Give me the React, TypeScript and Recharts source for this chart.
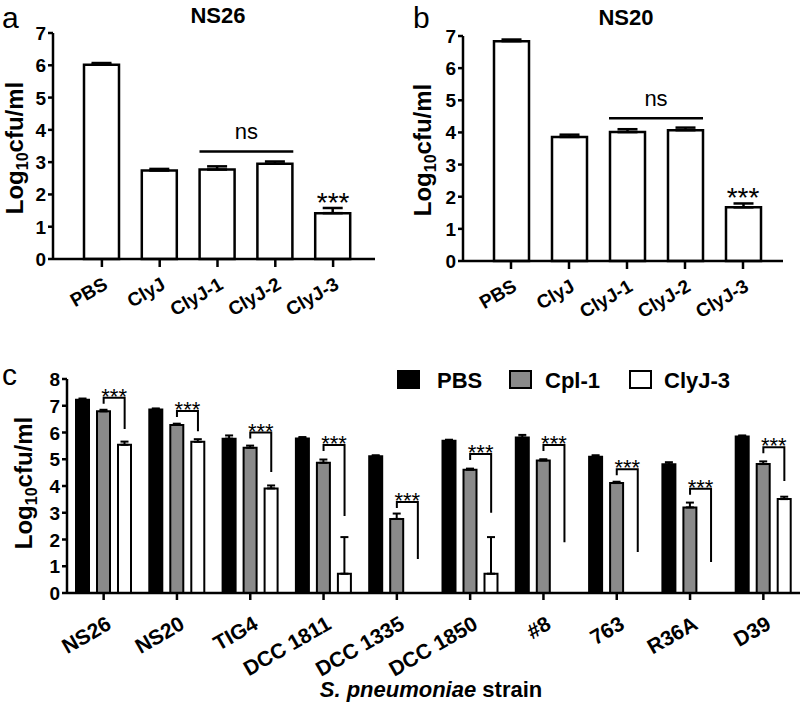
import React from 'react';
import { BarChart, Bar, XAxis, YAxis, ErrorBar, ReferenceLine, ReferenceDot, Legend } from 'recharts';

const FONT = '"Liberation Sans", Arial, Helvetica, sans-serif';

// ---------- Panels a & b ----------
const treatments = ['PBS', 'ClyJ', 'ClyJ-1', 'ClyJ-2', 'ClyJ-3'];
const ns26Values = [6.02, 2.74, 2.77, 2.95, 1.42];
const ns26Errors = [0.05, 0.05, 0.1, 0.07, 0.16];
const ns20Values = [6.84, 3.86, 4.01, 4.07, 1.67];
const ns20Errors = [0.05, 0.07, 0.09, 0.08, 0.12];
const nsLevelA = 3.33;
const nsLevelB = 4.44;
const nsFrom = 'ClyJ-1';
const nsTo = 'ClyJ-2';
const starTarget = 'ClyJ-3';
const yTicksAB = [0, 1, 2, 3, 4, 5, 6, 7];

// ---------- Panel c ----------
const strains = ['NS26', 'NS20', 'TIG4', 'DCC 1811', 'DCC 1335', 'DCC 1850', '#8', '763', 'R36A', 'D39'];
const pbsValues = [7.22, 6.86, 5.77, 5.78, 5.11, 5.69, 5.81, 5.09, 4.81, 5.85];
const pbsErrors = [0.05, 0.04, 0.12, 0.05, 0.04, 0.04, 0.1, 0.06, 0.08, 0.04];
const cpl1Values = [6.79, 6.28, 5.43, 4.87, 2.77, 4.61, 4.95, 4.11, 3.2, 4.82];
const cpl1Errors = [0.06, 0.05, 0.08, 0.12, 0.2, 0.04, 0.05, 0.05, 0.18, 0.1];
const clyj3Values = [5.54, 5.65, 3.91, 0.72, 0, 0.72, 0, 0, 0, 3.51];
const clyj3Errors = [0.12, 0.1, 0.11, 1.37, null, 1.37, null, null, null, 0.09];
const bracketTops = [7.3, 6.8, 6.0, 5.53, 3.4, 5.2, 5.53, 4.63, 3.9, 5.45];
const bracketEnds = [6.13, 6.05, 4.52, 2.88, 1.27, 3.0, 1.9, 1.53, 1.16, 4.19];
const yTicksC = [0, 1, 2, 3, 4, 5, 6, 7, 8];
const seriesNames = ['PBS', 'Cpl-1', 'ClyJ-3'];
const seriesColors = ['#000000', '#8a8a8a', '#ffffff'];

const dataA = treatments.map((t, i) => ({ name: t, value: ns26Values[i], err: [0, ns26Errors[i]] }));
const dataB = treatments.map((t, i) => ({ name: t, value: ns20Values[i], err: [0, ns20Errors[i]] }));
const dataC = strains.map((s, i) => ({
  name: s,
  pbs: pbsValues[i],
  pbsErr: [0, pbsErrors[i]],
  cpl: cpl1Values[i],
  cplErr: [0, cpl1Errors[i]],
  cly: clyj3Values[i],
  clyErr: clyj3Errors[i] == null ? null : [0, clyj3Errors[i] as number],
}));

const starLevel = (vals: number[], errs: number[]) => {
  const i = treatments.indexOf(starTarget);
  return vals[i] + errs[i];
};

const makeXTick = (dx: number, dy: number, fs: number) => (props: any) => {
  const { x, y, payload } = props;
  const px = x + dx;
  const py = y + dy;
  return (
    <text
      x={px}
      y={py}
      textAnchor="end"
      transform={`rotate(-30 ${px} ${py})`}
      fontSize={fs}
      fontWeight="bold"
      fontFamily={FONT}
      fill="#000"
    >
      {payload.value}
    </text>
  );
};

const yTick = (props: any) => {
  const { x, y, payload } = props;
  return (
    <text x={x} y={y} dy={7} textAnchor="end" fontSize={19} fontWeight="bold" fontFamily={FONT} fill="#000">
      {payload.value}
    </text>
  );
};

const nsShape = (props: any) => {
  const { x1, y1, x2 } = props;
  return (
    <g>
      <line x1={x1 - 18} y1={y1} x2={x2 + 18} y2={y1} stroke="#000" strokeWidth={2.5} />
      <text x={(x1 + x2) / 2} y={y1 - 12} textAnchor="middle" fontSize={22} fontFamily={FONT} fill="#000">
        ns
      </text>
    </g>
  );
};

const starShape = (props: any) => {
  const { cx, cy } = props;
  return (
    <text x={cx} y={cy + 4} textAnchor="middle" fontSize={28} fontFamily={FONT} fill="#000">
      ***
    </text>
  );
};

const BAR_C = 13;
const GAP_C = 8;

const bracketShape = (props: any) => {
  const { x1, y1, y2 } = props;
  const left = x1;
  const right = x1 + BAR_C + GAP_C;
  return (
    <g>
      <path
        d={`M${left},${y1 + 6} L${left},${y1} L${right},${y1} L${right},${y2}`}
        fill="none"
        stroke="#000"
        strokeWidth={2}
      />
      <text x={(left + right) / 2} y={y1 + 6} textAnchor="middle" fontSize={22} fontFamily={FONT} fill="#000">
        ***
      </text>
    </g>
  );
};

const legendContent = () => (
  <svg width={360} height={30}>
    {seriesNames.map((n, i) => {
      const rx = [8, 120, 240][i];
      const tx = [47, 155, 274][i];
      return (
        <g key={n}>
          <rect x={rx} y={5} width={21} height={17} fill={seriesColors[i]} stroke="#000" strokeWidth={2} />
          <text x={tx} y={22} fontSize={22} fontWeight="bold" fontFamily={FONT} fill="#000">
            {n}
          </text>
        </g>
      );
    })}
  </svg>
);

const X_AXIS_H = 30;

const PanelAB = ({ data, ticks, nsLevel, star, yAxisW, top, bottom, right, padL, padR }: any) => (
  <BarChart
    width={400}
    height={330}
    data={data}
    margin={{ top, bottom: bottom - X_AXIS_H, left: 0, right }}
    barSize={35}
  >
    <XAxis
      dataKey="name"
      height={X_AXIS_H}
      interval={0}
      padding={{ left: padL, right: padR }}
      axisLine={{ stroke: '#000', strokeWidth: 2.5 }}
      tickLine={{ stroke: '#000', strokeWidth: 2.5 }}
      tickSize={8}
      tickMargin={0}
      tick={makeXTick(7, 21, 19)}
    />
    <YAxis
      width={yAxisW}
      domain={[0, 7]}
      ticks={ticks}
      interval={0}
      axisLine={{ stroke: '#000', strokeWidth: 2.5 }}
      tickLine={{ stroke: '#000', strokeWidth: 2.5 }}
      tickSize={5}
      tickMargin={2}
      tick={yTick}
    />
    <Bar dataKey="value" fill="#fff" stroke="#000" strokeWidth={2.5} isAnimationActive={false}>
      <ErrorBar dataKey="err" width={10} stroke="#000" strokeWidth={2.5} direction="y" />
    </Bar>
    <ReferenceLine
      segment={[{ x: nsFrom, y: nsLevel }, { x: nsTo, y: nsLevel }]}
      shape={nsShape}
    />
    <ReferenceDot x={starTarget} y={star} r={0} shape={starShape} />
  </BarChart>
);

export default function App() {
  return (
    <div style={{ position: 'absolute', left: 0, top: 0, width: 800, height: 704, background: '#fff' }}>
      <div style={{ position: 'absolute', left: 0, top: 0 }}>
        <PanelAB
          data={dataA}
          ticks={yTicksAB}
          nsLevel={nsLevelA}
          star={starLevel(ns26Values, ns26Errors)}
          yAxisW={53}
          top={33}
          bottom={71}
          right={25}
          padL={20}
          padR={13}
        />
      </div>
      <div style={{ position: 'absolute', left: 400, top: 0 }}>
        <PanelAB
          data={dataB}
          ticks={yTicksAB}
          nsLevel={nsLevelB}
          star={starLevel(ns20Values, ns20Errors)}
          yAxisW={63}
          top={36}
          bottom={69}
          right={17}
          padL={19}
          padR={11}
        />
      </div>
      <div style={{ position: 'absolute', left: 0, top: 330 }}>
        <BarChart
          width={800}
          height={374}
          data={dataC}
          margin={{ top: 49, bottom: 111 - X_AXIS_H, left: 0, right: 0 }}
          barSize={BAR_C}
          barGap={GAP_C}
        >
          <XAxis
            dataKey="name"
            height={X_AXIS_H}
            interval={0}
            axisLine={{ stroke: '#000', strokeWidth: 2.5 }}
            tickLine={{ stroke: '#000', strokeWidth: 2.5 }}
            tickSize={7}
            tickMargin={0}
            tick={makeXTick(9, 28, 21)}
          />
          <YAxis
            width={67}
            domain={[0, 8]}
            ticks={yTicksC}
            interval={0}
            axisLine={{ stroke: '#000', strokeWidth: 2.5 }}
            tickLine={{ stroke: '#000', strokeWidth: 2.5 }}
            tickSize={5}
            tickMargin={2}
            tick={yTick}
          />
          <Legend
            layout="vertical"
            align="center"
            verticalAlign="middle"
            content={legendContent}
            wrapperStyle={{ position: 'absolute', left: 390, top: 36, width: 360, height: 30 }}
          />
          <Bar dataKey="pbs" name={seriesNames[0]} fill={seriesColors[0]} stroke="#000" strokeWidth={2} isAnimationActive={false}>
            <ErrorBar dataKey="pbsErr" width={4} stroke="#000" strokeWidth={2} direction="y" />
          </Bar>
          <Bar dataKey="cpl" name={seriesNames[1]} fill={seriesColors[1]} stroke="#000" strokeWidth={2} isAnimationActive={false}>
            <ErrorBar dataKey="cplErr" width={4} stroke="#000" strokeWidth={2} direction="y" />
          </Bar>
          <Bar dataKey="cly" name={seriesNames[2]} fill={seriesColors[2]} stroke="#000" strokeWidth={2} isAnimationActive={false}>
            <ErrorBar dataKey="clyErr" width={4} stroke="#000" strokeWidth={2} direction="y" />
          </Bar>
          {strains.map((s, i) => (
            <ReferenceLine
              key={s}
              segment={[{ x: s, y: bracketTops[i] }, { x: s, y: bracketEnds[i] }]}
              shape={bracketShape}
            />
          ))}
        </BarChart>
      </div>
      <svg
        width={800}
        height={704}
        style={{ position: 'absolute', left: 0, top: 0, pointerEvents: 'none' }}
        fontFamily={FONT}
      >
        <text x={2} y={28} fontSize={30} fill="#000">a</text>
        <text x={413} y={28} fontSize={30} fill="#000">b</text>
        <text x={2} y={385} fontSize={30} fill="#000">c</text>
        <text x={218} y={23} textAnchor="middle" fontSize={22} fontWeight="bold" fill="#000">NS26</text>
        <text x={626} y={25} textAnchor="middle" fontSize={22} fontWeight="bold" fill="#000">NS20</text>
        {[
          { x: 23, y: 148 },
          { x: 431, y: 150 },
          { x: 32, y: 483 },
        ].map((p, i) => (
          <text
            key={i}
            x={p.x}
            y={p.y}
            textAnchor="middle"
            transform={`rotate(-90 ${p.x} ${p.y})`}
            fontSize={24}
            fontWeight="bold"
            fill="#000"
          >
            Log
            <tspan fontSize={16} dy={5}>10</tspan>
            <tspan dy={-5}>cfu/ml</tspan>
          </text>
        ))}
        <text x={431} y={697} textAnchor="middle" fontSize={22} fontWeight="bold" fill="#000">
          <tspan fontStyle="italic">S. pneumoniae</tspan> strain
        </text>
      </svg>
    </div>
  );
}
